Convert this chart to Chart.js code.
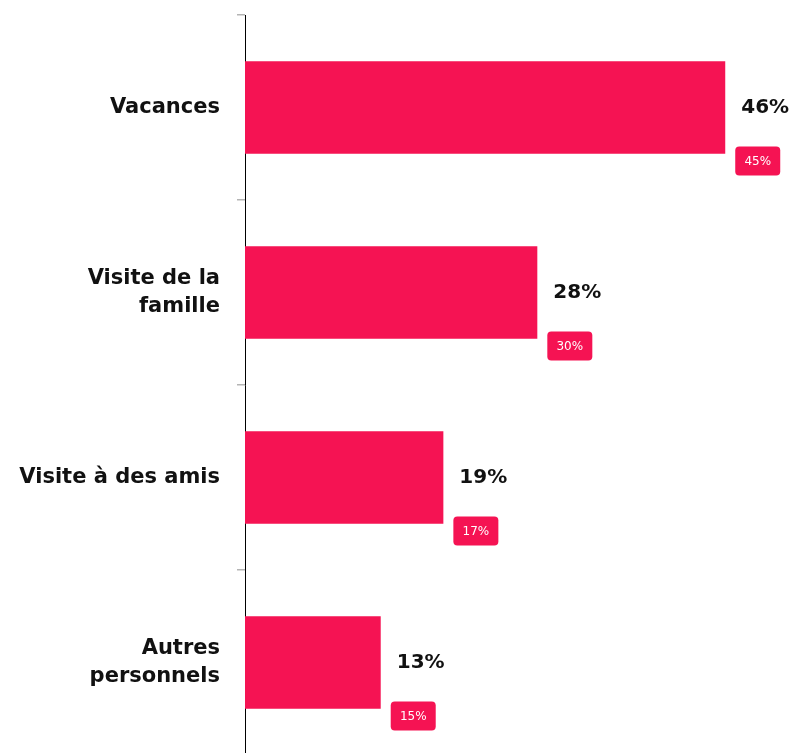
<!DOCTYPE html>
<html>
<head>
<meta charset="utf-8">
<script src="https://cdn.jsdelivr.net/npm/chart.js@4/dist/chart.umd.min.js"></script>
<style>
  html, body { margin: 0; padding: 0; background: #fff; overflow: hidden; }
  .chart { width: 796px; height: 760px; position: relative; }
</style>
</head>
<body>
<div class="chart">
  <canvas id="motifs"></canvas>
</div>
<script>
const categories = [["Vacances"], ["Visite de la", "famille"], ["Visite à des amis"], ["Autres", "personnels"]];
const values = [46, 28, 19, 13];
const previousValues = [45, 30, 17, 15];

const PINK = '#F51353';
const FONT = "'DejaVu Sans', Verdana, sans-serif";

const valueLabels = {
    id: 'valueLabels',
    afterDatasetsDraw(chart) {
        const ctx = chart.ctx;
        const meta = chart.getDatasetMeta(0);
        meta.data.forEach((bar, i) => {
            ctx.save();
            // main value
            ctx.fillStyle = '#111';
            ctx.font = 'bold 20px ' + FONT;
            ctx.textAlign = 'left';
            ctx.textBaseline = 'middle';
            ctx.fillText(values[i] + '%', bar.x + 16, bar.y);
            // badge with previous value
            const bx = bar.x + 10, by = bar.y + 39, bw = 45, bh = 29;
            ctx.fillStyle = PINK;
            ctx.beginPath();
            ctx.roundRect(bx, by, bw, bh, 4);
            ctx.fill();
            ctx.fillStyle = '#fff';
            ctx.font = '12px ' + FONT;
            ctx.textAlign = 'center';
            ctx.fillText(previousValues[i] + '%', bx + bw / 2, by + bh / 2 + 1);
            ctx.restore();
        });
    }
};

new Chart(document.getElementById('motifs'), {
    type: 'bar',
    data: {
        labels: categories,
        datasets: [{
            data: values,
            backgroundColor: PINK,
            borderWidth: 0,
            categoryPercentage: 1,
            barPercentage: 0.5,
        }]
    },
    options: {
        indexAxis: 'y',
        responsive: true,
        maintainAspectRatio: false,
        animation: false,
        layout: { padding: { top: 15, right: 29, bottom: 5, left: 0 } },
        plugins: {
            legend: { display: false },
            tooltip: { enabled: false },
        },
        scales: {
            x: {
                display: false,
                min: 0,
                max: 50,
            },
            y: {
                afterFit(scale) {
                    scale.width = 245;
                    scale.paddingTop = 0;
                    scale.paddingBottom = 0;
                },
                border: { display: true, color: '#000', width: 1 },
                grid: {
                    drawOnChartArea: false,
                    drawTicks: true,
                    tickLength: 8,
                    color: '#b4b4b4',
                    lineWidth: 1.5,
                    offset: true,
                },
                ticks: {
                    color: '#111',
                    padding: 17,
                    font: { family: FONT, size: 21, weight: 'bold', lineHeight: 1.35 },
                },
            },
        },
    },
    plugins: [valueLabels],
});
</script>
</body>
</html>
